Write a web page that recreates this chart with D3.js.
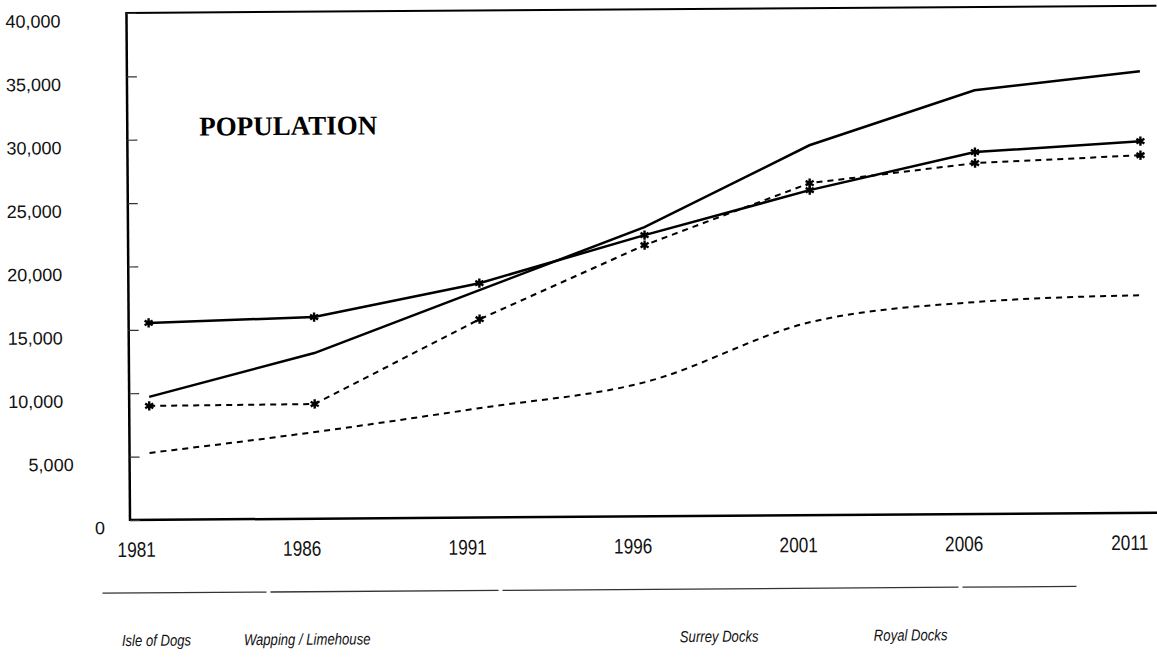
<!DOCTYPE html>
<html>
<head>
<meta charset="utf-8">
<script src="https://cdn.jsdelivr.net/npm/d3@7"></script>
<style>
body { margin: 0; background: #fff; }
svg { display: block; }
.tick-y text { font-family: "Liberation Sans", Arial, sans-serif; font-size: 18px; fill: #111; }
.tick-x text { font-family: "Liberation Sans", Arial, sans-serif; font-size: 21px; fill: #111; }
.legend text { font-family: "Liberation Sans", Arial, sans-serif; font-size: 16px; font-style: italic; fill: #111; }
</style>
</head>
<body>
<div id="chart"></div>
<script>
// values
var years = [1981, 1986, 1991, 1996, 2001, 2006, 2011];
var areaNames = ["Isle of Dogs", "Wapping / Limehouse", "Surrey Docks", "Royal Docks"];
var isleOfDogs = [15540, 15910, 18490, 22190, 25650, 28560, 29330];
var wappingLimehouse = [9700, 13070, 17940, 22820, 29190, 33440, 34850];
var surreyDocks = [8990, 9050, 15650, 21400, 26200, 27690, 28220];
var royalDocks = [5280, 6840, 8640, 10600, 15240, 16730, 17180];
var yTicks = [0, 5000, 10000, 15000, 20000, 25000, 30000, 35000, 40000];
var chartTitle = "POPULATION";

var width = 1157;
var height = 659;
var margin = {top: 13, left: 130, bottom: 520, right: 1160};
var narrow = 0.82; // the printed labels are condensed

var svg = d3.select("#chart")
    .append("svg")
    .attr("width", width)
    .attr("height", height);

// the scan is tilted a little, so everything sits in a rotated group
var g = svg.append("g")
    .attr("transform", "rotate(-0.4," + margin.left + "," + margin.bottom + ")");

var xScale = d3.scaleLinear().domain([1981, 2011]).range([150, 1143]);
var yScale = d3.scaleLinear().domain([0, 40000]).range([margin.bottom, margin.top]);

// frame
g.append("line")
    .attr("x1", margin.left).attr("x2", margin.right)
    .attr("y1", margin.top).attr("y2", margin.top)
    .attr("stroke", "#000").attr("stroke-width", 2);
g.append("line")
    .attr("x1", margin.left).attr("x2", margin.right)
    .attr("y1", margin.bottom).attr("y2", margin.bottom)
    .attr("stroke", "#000").attr("stroke-width", 2.5);
g.append("line")
    .attr("x1", margin.left).attr("x2", margin.left)
    .attr("y1", margin.top - 1).attr("y2", margin.bottom + 1)
    .attr("stroke", "#000").attr("stroke-width", 2.5);

// y axis, ticks pointing in
var yAxis = d3.axisLeft(yScale)
    .tickValues(yTicks)
    .tickSize(-10)
    .tickFormat(d3.format(","));

var yContainer = g.append("g")
    .attr("class", "tick-y")
    .attr("transform", "translate(" + margin.left + ",0)")
    .call(yAxis);
yContainer.select(".domain").remove();
yContainer.selectAll("line").attr("stroke", "#333").attr("stroke-width", 1.2);
yContainer.selectAll("text")
    .attr("x", function(d) { return d === 0 ? -25 : (d === 5000 ? -56 : -66); })
    .attr("dy", "0.75em")
    .attr("font-family", null).attr("font-size", null);

// x axis labels
var xAxis = d3.axisBottom(xScale)
    .tickValues(years)
    .tickSize(0)
    .tickFormat(d3.format("d"));

var xContainer = g.append("g")
    .attr("class", "tick-x")
    .attr("transform", "translate(0," + margin.bottom + ")")
    .call(xAxis);
xContainer.select(".domain").remove();
xContainer.selectAll("text")
    .attr("y", 22)
    .attr("dx", -14 / narrow)
    .attr("transform", "scale(" + narrow + ",1)")
    .attr("font-family", null).attr("font-size", null);

// title
g.append("text")
    .attr("x", 202)
    .attr("y", 136)
    .style("font-family", "'Liberation Serif', 'Times New Roman', serif")
    .style("font-weight", "bold")
    .style("font-size", "27px")
    .text(chartTitle);

// series
var seriesData = [isleOfDogs, wappingLimehouse, surreyDocks, royalDocks];
var seriesStyle = [
    {dash: null, marker: true, curve: d3.curveLinear},
    {dash: null, marker: false, curve: d3.curveLinear},
    {dash: "6,5", marker: true, curve: d3.curveLinear},
    {dash: "6,5", marker: false, curve: d3.curveMonotoneX}
];

seriesData.forEach(function(values, i) {
    var pts = years.map(function(yr, j) { return {year: yr, value: values[j]}; });
    var style = seriesStyle[i];
    var line = d3.line()
        .x(function(d) { return xScale(d.year); })
        .y(function(d) { return yScale(d.value); })
        .curve(style.curve);

    g.append("path")
        .datum(pts)
        .attr("fill", "none")
        .attr("stroke", "#000")
        .attr("stroke-width", style.dash ? 2 : 2.5)
        .attr("stroke-dasharray", style.dash)
        .attr("d", line);

    if (style.marker) {
        g.selectAll(".point-" + i)
            .data(pts)
            .enter()
            .append("path")
            .attr("class", "point-" + i)
            .attr("transform", function(d) { return "translate(" + xScale(d.year) + "," + yScale(d.value) + ")"; })
            .attr("d", d3.symbol().type(d3.symbolAsterisk).size(60))
            .attr("fill", "none")
            .attr("stroke", "#000")
            .attr("stroke-width", 2.4);
    }
});

// legend: the line samples came out as one faint rule in the scan
var legendX = [121, 243, 679, 873];
var legendEnds = [100, 268, 500, 960, 1078];
var legend = g.append("g").attr("class", "legend");

legend.selectAll("line")
    .data(areaNames)
    .enter()
    .append("line")
    .attr("x1", function(d, i) { return legendEnds[i] + 2; })
    .attr("x2", function(d, i) { return legendEnds[i + 1] - 2; })
    .attr("y1", 593)
    .attr("y2", 593)
    .attr("stroke", "#333")
    .attr("stroke-width", 1.3);

legend.selectAll("text")
    .data(areaNames)
    .enter()
    .append("text")
    .attr("transform", function(d, i) { return "translate(" + legendX[i] + ",646) scale(" + narrow + ",1)"; })
    .text(function(d) { return d; });
</script>
</body>
</html>
